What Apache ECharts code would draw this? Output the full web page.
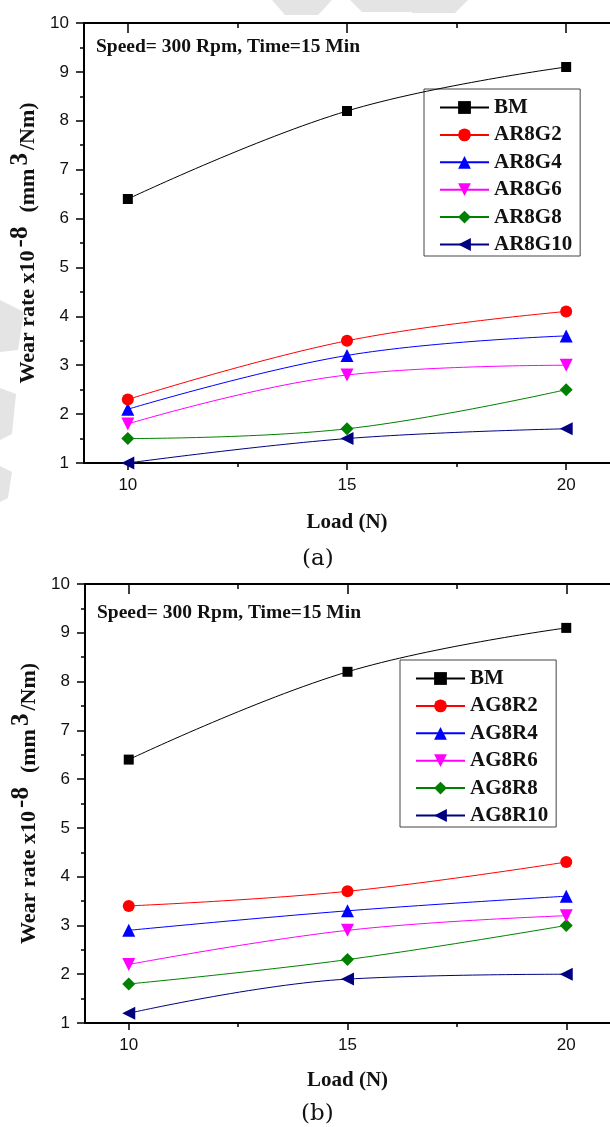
<!DOCTYPE html>
<html>
<head>
<meta charset="utf-8">
<script src="https://cdn.jsdelivr.net/npm/echarts@6/dist/echarts.min.js"></script>
<style>
  html, body { margin: 0; padding: 0; background: #fff; }
  #chart { width: 610px; height: 1127px; }
</style>
</head>
<body>
<div id="chart"></div>
<script>
// Applied load (N) and tick positions
const loads = [10, 15, 20];
const minorLoads = [12.5, 17.5];

// Panel (a): wear rate x10^-8 mm^3/Nm
const namesA = ['BM', 'AR8G2', 'AR8G4', 'AR8G6', 'AR8G8', 'AR8G10'];
const bmRate = [6.4, 8.2, 9.1];
const ar8g2Rate = [2.3, 3.5, 4.1];
const ar8g4Rate = [2.1, 3.2, 3.6];
const ar8g6Rate = [1.8, 2.8, 3.0];
const ar8g8Rate = [1.5, 1.7, 2.5];
const ar8g10Rate = [1.0, 1.5, 1.7];

// Panel (b)
const namesB = ['BM', 'AG8R2', 'AG8R4', 'AG8R6', 'AG8R8', 'AG8R10'];
const ag8r2Rate = [3.4, 3.7, 4.3];
const ag8r4Rate = [2.9, 3.3, 3.6];
const ag8r6Rate = [2.2, 2.9, 3.2];
const ag8r8Rate = [1.8, 2.3, 3.0];
const ag8r10Rate = [1.2, 1.9, 2.0];

const valuesA = [bmRate, ar8g2Rate, ar8g4Rate, ar8g6Rate, ar8g8Rate, ar8g10Rate];
const valuesB = [bmRate, ag8r2Rate, ag8r4Rate, ag8r6Rate, ag8r8Rate, ag8r10Rate];

// Marker style per series position (shared by both panels)
const markStyles = [
  { color: '#000000', symbol: 'rect', size: 10, rotate: 0 },
  { color: '#FF0000', symbol: 'circle', size: 12, rotate: 0 },
  { color: '#0000FF', symbol: 'triangle', size: 13, rotate: 0 },
  { color: '#FF00FF', symbol: 'triangle', size: 13, rotate: 180 },
  { color: '#008000', symbol: 'diamond', size: 13, rotate: 0 },
  { color: '#000080', symbol: 'triangle', size: 13, rotate: 90 }
];

const SERIF = '"Liberation Serif", "Times New Roman", serif';
const SANS = '"Liberation Sans", Arial, sans-serif';

const panels = [
  { left: 84, top: 23, width: 536, height: 440, nameGapX: 49, legendLeft: 424, legendTop: 89 },
  { left: 85, top: 584, width: 535, height: 439, nameGapX: 47, legendLeft: 400, legendTop: 660 }
];

const grids = panels.map(p => ({ left: p.left, top: p.top, width: p.width, height: p.height }));

const xAxes = [];
const yAxes = [];
panels.forEach((p, gi) => {
  const base = { gridIndex: gi, type: 'value', min: 9, max: 21, splitLine: { show: false } };
  // bottom axis with labels and title
  xAxes.push(Object.assign({}, base, {
    position: 'bottom',
    axisLine: { lineStyle: { color: '#000', width: 2 } },
    axisTick: { customValues: loads, length: 7, lineStyle: { color: '#000', width: 1.5 } },
    axisLabel: { customValues: loads, margin: 14, fontSize: 17, fontFamily: SANS, color: '#111' },
    name: 'Load (N)',
    nameLocation: 'middle',
    nameGap: p.nameGapX,
    nameTextStyle: { fontFamily: SERIF, fontWeight: 'bold', fontSize: 21, color: '#111' }
  }));
  // bottom minor ticks
  xAxes.push(Object.assign({}, base, {
    position: 'bottom',
    axisLine: { show: false },
    axisTick: { customValues: minorLoads, length: 4, lineStyle: { color: '#000', width: 1.5 } },
    axisLabel: { show: false }
  }));
  // top frame with inward ticks
  xAxes.push(Object.assign({}, base, {
    position: 'top',
    axisLine: { lineStyle: { color: '#000', width: 2 } },
    axisTick: { inside: true, customValues: loads, length: 10, lineStyle: { color: '#000', width: 1.5 } },
    axisLabel: { show: false }
  }));
  xAxes.push(Object.assign({}, base, {
    position: 'top',
    axisLine: { show: false },
    axisTick: { inside: true, customValues: minorLoads, length: 5, lineStyle: { color: '#000', width: 1.5 } },
    axisLabel: { show: false }
  }));
  yAxes.push({
    gridIndex: gi,
    type: 'value',
    position: 'left',
    min: 1,
    max: 10,
    interval: 1,
    splitLine: { show: false },
    axisLine: { show: true, lineStyle: { color: '#000', width: 2 } },
    axisTick: { show: true, length: 8, lineStyle: { color: '#000', width: 1.5 } },
    minorTick: { show: true, splitNumber: 2, length: 4, lineStyle: { color: '#000', width: 1.5 } },
    axisLabel: { margin: 15, fontSize: 17, fontFamily: SANS, color: '#111' },
    // superscripts sit at the top of a taller line box
    name: '{n|Wear rate x10}{s|-8}{n|  (mm}{s|3}{n|/Nm)}',
    nameLocation: 'middle',
    nameRotate: 90,
    nameGap: 25,
    nameTextStyle: {
      rich: {
        n: { fontFamily: SERIF, fontWeight: 'bold', fontSize: 22, lineHeight: 40, color: '#111' },
        s: { fontFamily: SERIF, fontWeight: 'bold', fontSize: 25, lineHeight: 22, color: '#111', verticalAlign: 'top', padding: [0, 3, 0, 3] }
      }
    }
  });
});

function buildSeries(names, values, gi) {
  return names.map((name, i) => {
    const st = markStyles[i];
    return {
      name: name,
      type: 'line',
      xAxisIndex: gi * 4,
      yAxisIndex: gi,
      smooth: 0.4,
      symbol: st.symbol,
      symbolSize: st.size,
      symbolRotate: st.rotate,
      showAllSymbol: true,
      lineStyle: { color: st.color, width: 1 },
      itemStyle: { color: st.color, borderWidth: 0 },
      emphasis: { disabled: true },
      data: loads.map((x, k) => [x, values[i][k]]),
      z: 3 + (names.length - i)
    };
  });
}

function buildLegend(names, p) {
  return {
    orient: 'vertical',
    left: p.legendLeft,
    top: p.legendTop,
    data: names,
    backgroundColor: '#fff',
    borderColor: '#444',
    borderWidth: 1,
    padding: [8, 8, 1, 15],
    itemWidth: 49,
    itemHeight: 16,
    itemGap: 6.4,
    selectedMode: false,
    textStyle: { fontFamily: SERIF, fontWeight: 'bold', fontSize: 21, lineHeight: 20, color: '#111' }
  };
}

// Light grey fragments of the page watermark
const watermarkColor = '#e4e4e4';
const watermark = [
  [[272, 0], [332, 0], [318, 15], [285, 15]],
  [[350, 0], [420, 0], [410, 12], [362, 12]],
  [[400, 0], [468, 0], [455, 13], [412, 13]],
  [[0, 300], [24, 312], [18, 350], [0, 352]],
  [[0, 388], [16, 394], [12, 434], [0, 440]],
  [[0, 466], [12, 472], [8, 498], [0, 502]]
].map(pts => ({ type: 'polygon', z: -10, silent: true, shape: { points: pts }, style: { fill: watermarkColor } }));

const annotations = [
  { type: 'text', left: 96, top: 37, style: { text: 'Speed= 300 Rpm, Time=15 Min', font: 'bold 19.5px ' + SERIF, fill: '#111' } },
  { type: 'text', left: 97, top: 603, style: { text: 'Speed= 300 Rpm, Time=15 Min', font: 'bold 19.5px ' + SERIF, fill: '#111' } },
  { type: 'text', left: 302, top: 548, style: { text: '(a)', font: '23px "DejaVu Serif", serif', fill: '#111' } },
  { type: 'text', left: 301, top: 1103, style: { text: '(b)', font: '23px "DejaVu Serif", serif', fill: '#111' } }
];

const chart = echarts.init(document.getElementById('chart'), null, { renderer: 'canvas' });
chart.setOption({
  backgroundColor: '#fff',
  animation: false,
  grid: grids,
  xAxis: xAxes,
  yAxis: yAxes,
  legend: [buildLegend(namesA, panels[0]), buildLegend(namesB, panels[1])],
  series: buildSeries(namesA, valuesA, 0).concat(buildSeries(namesB, valuesB, 1)),
  graphic: watermark.concat(annotations)
});
</script>
</body>
</html>
